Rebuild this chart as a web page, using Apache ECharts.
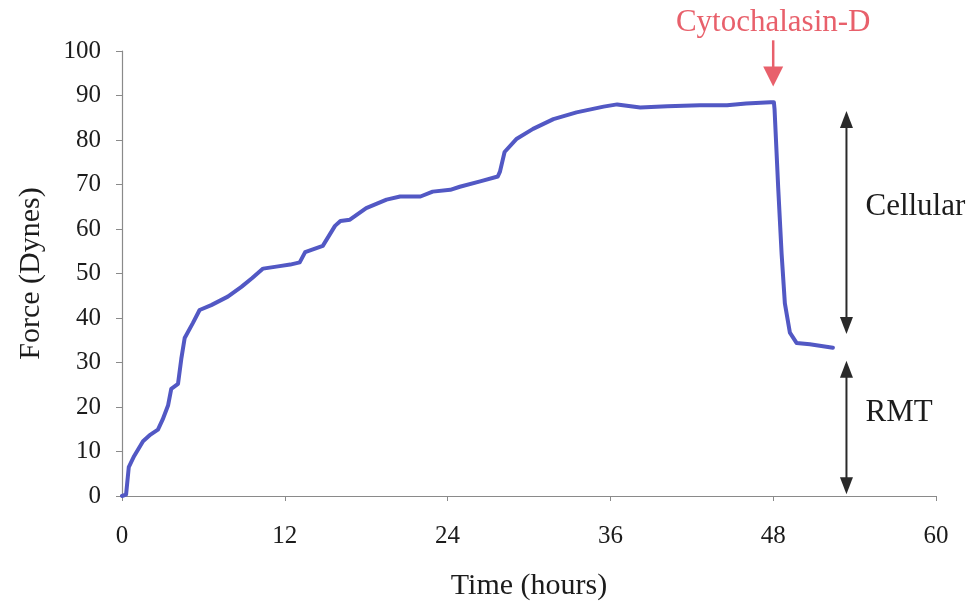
<!DOCTYPE html>
<html>
<head>
<meta charset="utf-8">
<script src="https://cdn.jsdelivr.net/npm/echarts@6/dist/echarts.min.js"></script>
<style>
  html, body { margin: 0; padding: 0; background: #ffffff; }
  #chart { width: 971px; height: 606px; }
</style>
</head>
<body>
<div id="chart"></div>
<script>
// Force trace of the cell-populated collagen gel (hours vs dynes)
const timeHours = [
  0, 0.3, 0.5, 0.9, 1.55, 2.1, 2.65, 3.0, 3.4, 3.63, 4.13, 4.37, 4.62, 5.23, 5.72,
  6.58, 7.8, 8.8, 9.6, 10.4, 11.5, 12.4, 13.1, 13.5, 14.8, 15.7, 16.1, 16.8, 18.0,
  19.5, 20.5, 22.0, 22.9, 24.2, 24.9, 26.4, 27.7, 27.86, 28.2, 29.1, 30.3, 31.8, 33.5,
  35.5, 36.5, 38.2, 40.2, 42.6, 44.6, 46.0, 47.8, 48.05, 48.1, 48.37, 48.62, 48.86,
  49.23, 49.72, 50.7, 52.4
];
const forceDynes = [
  0, 0.3, 6.5, 9.0, 12.3, 13.8, 14.9, 17.2, 20.4, 24.1, 25.2, 30.8, 35.5, 38.9, 41.8,
  42.9, 44.8, 47.0, 49.0, 51.1, 51.6, 52.0, 52.5, 54.8, 56.2, 60.7, 61.8, 62.1, 64.7,
  66.6, 67.3, 67.3, 68.4, 68.8, 69.5, 70.7, 71.8, 72.9, 77.3, 80.3, 82.5, 84.7, 86.2,
  87.5, 88.0, 87.3, 87.6, 87.8, 87.8, 88.2, 88.5, 88.5, 86.9, 69.2, 54.4, 43.3,
  36.7, 34.4, 34.1, 33.3
];

// Axis ranges
const xRange = [0, 60];
const xStep = 12;
const yRange = [0, 100];
const yStep = 10;

// Annotations (data space)
const drugName = 'Cytochalasin-D';
const drugTime = 48;
const drugArrowFrom = 102.4;
const drugArrowTip = 92;
const drugLabelAt = 106.4;

const bracketTime = 53.4;
const cellularSpan = [36.4, 86.5];
const rmtSpan = [0.4, 30.4];
const cellularLabel = 'Cellular';
const rmtLabel = 'RMT';
const cellularLabelAt = [54.8, 65];
const rmtLabelAt = [54.8, 18.6];

const serif = '"Liberation Serif", "Times New Roman", serif';
const ink = '#1c1c1c';

const chart = echarts.init(document.getElementById('chart'), null, { renderer: 'canvas' });

const option = {
  backgroundColor: '#ffffff',
  animation: false,
  grid: { left: 122, right: 35, top: 51, bottom: 104, containLabel: false },
  xAxis: {
    type: 'value',
    min: xRange[0], max: xRange[1], interval: xStep,
    name: 'Time (hours)',
    nameLocation: 'middle',
    nameGap: 75,
    nameTextStyle: { fontFamily: serif, fontSize: 30, color: ink },
    axisLine: { show: true, lineStyle: { color: '#8a8a8a', width: 1.2 } },
    axisTick: { show: true, length: 5, lineStyle: { color: '#8a8a8a' } },
    axisLabel: { fontFamily: serif, fontSize: 25, color: ink, margin: 28 },
    splitLine: { show: false }
  },
  yAxis: {
    type: 'value',
    min: yRange[0], max: yRange[1], interval: yStep,
    name: 'Force (Dynes)',
    nameLocation: 'middle',
    nameGap: 76,
    nameRotate: 90,
    nameTextStyle: { fontFamily: serif, fontSize: 30, color: ink },
    axisLine: { show: true, lineStyle: { color: '#8a8a8a', width: 1.2 } },
    axisTick: { show: true, length: 6, lineStyle: { color: '#8a8a8a' } },
    axisLabel: { fontFamily: serif, fontSize: 25, color: ink, margin: 21 },
    splitLine: { show: false }
  },
  series: [{
    type: 'line',
    data: timeHours.map((t, i) => [t, forceDynes[i]]),
    showSymbol: false,
    smooth: false,
    clip: false,
    lineStyle: { color: '#5258c4', width: 4, cap: 'round', join: 'round' }
  }]
};

chart.setOption(option);

// Annotation shapes, placed through the axes' own conversion
function px(t, f) { return chart.convertToPixel({ gridIndex: 0 }, [t, f]); }

function doubleArrow(span, color) {
  const top = px(bracketTime, span[1]);
  const bot = px(bracketTime, span[0]);
  const hw = 6.5, hh = 17;
  return [
    { type: 'line', shape: { x1: top[0], y1: top[1] + hh - 2, x2: bot[0], y2: bot[1] - hh + 2 },
      style: { stroke: color, lineWidth: 2 } },
    { type: 'polygon', shape: { points: [[top[0], top[1]], [top[0] - hw, top[1] + hh], [top[0] + hw, top[1] + hh]] },
      style: { fill: color } },
    { type: 'polygon', shape: { points: [[bot[0], bot[1]], [bot[0] - hw, bot[1] - hh], [bot[0] + hw, bot[1] - hh]] },
      style: { fill: color } }
  ];
}

function buildGraphics() {
  const els = [];
  const drugColor = '#e8606b';
  const from = px(drugTime, drugArrowFrom);
  const tip = px(drugTime, drugArrowTip);
  const headH = 20, headW = 10;
  els.push({ type: 'line', shape: { x1: from[0], y1: from[1], x2: tip[0], y2: tip[1] - headH + 2 },
    style: { stroke: drugColor, lineWidth: 2.5 } });
  els.push({ type: 'polygon', shape: { points: [[tip[0], tip[1]], [tip[0] - headW, tip[1] - headH], [tip[0] + headW, tip[1] - headH]] },
    style: { fill: drugColor } });
  const lab = px(drugTime, drugLabelAt);
  els.push({ type: 'text', x: lab[0], y: lab[1],
    style: { text: drugName, fontFamily: serif, fontSize: 31, fill: drugColor, align: 'center', verticalAlign: 'middle' } });

  els.push(...doubleArrow(cellularSpan, '#2a2a2a'));
  els.push(...doubleArrow(rmtSpan, '#2a2a2a'));

  const c = px(cellularLabelAt[0], cellularLabelAt[1]);
  els.push({ type: 'text', x: c[0], y: c[1],
    style: { text: cellularLabel, fontFamily: serif, fontSize: 31, fill: ink, align: 'left', verticalAlign: 'middle' } });
  const r = px(rmtLabelAt[0], rmtLabelAt[1]);
  els.push({ type: 'text', x: r[0], y: r[1],
    style: { text: rmtLabel, fontFamily: serif, fontSize: 31, fill: ink, align: 'left', verticalAlign: 'middle' } });
  return els;
}

chart.setOption({ graphic: { elements: buildGraphics() } });
</script>
</body>
</html>
